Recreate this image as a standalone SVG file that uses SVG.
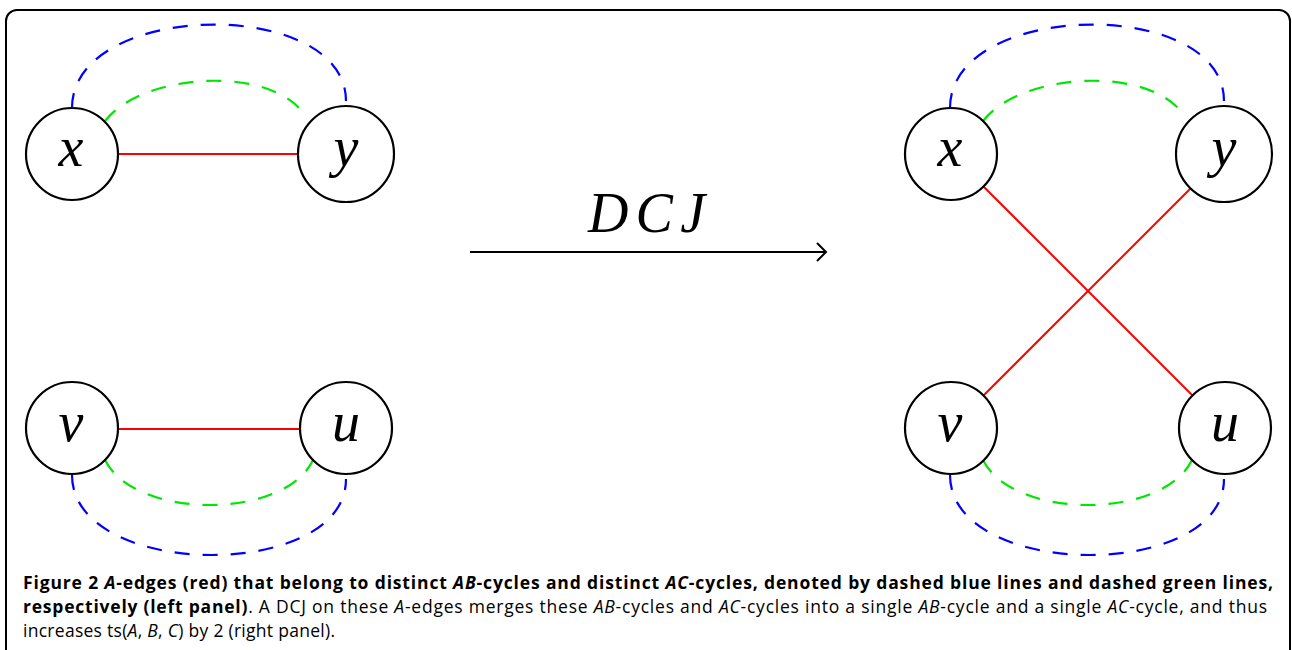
<svg xmlns="http://www.w3.org/2000/svg" width="1292" height="650" viewBox="0 0 1292 650">
<style>
.node{fill:#fff;stroke:#000;stroke-width:2.2}
.lbl{font-family:"Liberation Serif",serif;font-style:italic;font-size:56px;fill:#000;text-anchor:middle}
.red{stroke:#ff0000;stroke-width:2;fill:none}
.blue{stroke:#0000ff;stroke-width:2.2;fill:none;stroke-dasharray:15 13}
.green{stroke:#00e600;stroke-width:2.2;fill:none;stroke-dasharray:15 13}
.cap{font-family:"Open Sans",sans-serif;font-size:17.5px;fill:#000}
.b{font-weight:bold}
.i{font-style:italic}
</style>
<defs>
<marker id="chev" markerWidth="14" markerHeight="22" refX="12" refY="11" orient="auto" markerUnits="userSpaceOnUse">
<path d="M3,2 L12,11 L3,20" fill="none" stroke="#000" stroke-width="2"/>
</marker>
</defs>
<rect x="6" y="10" width="1284" height="650" rx="11" fill="#fff" stroke="#000" stroke-width="2"/>
<g id="connectors">
<!-- left panel -->
<path class="blue" d="M72,108 C72,0 346,-4 346,101"/>
<path class="green" d="M105,121 C140,75 260,65 300,109"/>
<line class="red" x1="118" y1="154" x2="298" y2="154"/>
<line class="red" x1="118" y1="429" x2="300" y2="429"/>
<path class="green" d="M105,460 C135,520 285,520 313,460"/>
<path class="blue" d="M72,475 C72,580 346,582 346,479"/>
<!-- right panel -->
<path class="blue" d="M950,108 C950,0 1224,-4 1224,101"/>
<path class="green" d="M983,121 C1018,75 1138,65 1179,109"/>
<line class="red" x1="983.5" y1="186.5" x2="1192.5" y2="395.5"/>
<line class="red" x1="1190.5" y1="188.5" x2="983.5" y2="395.5"/>
<path class="green" d="M983,460 C1013,520 1163,520 1192,460"/>
<path class="blue" d="M950,475 C950,580 1224,582 1224,479"/>
<!-- DCJ arrow -->
<line x1="470" y1="252" x2="826" y2="252" stroke="#000" stroke-width="2" marker-end="url(#chev)"/>
<text x="588" y="232" textLength="117" style="font-family:'Liberation Serif',serif;font-style:italic;font-size:56px">DCJ</text>
</g>
<g id="L-x"><circle class="node" cx="72" cy="154" r="46"/><text class="lbl" x="71" y="166">x</text></g>
<g id="L-y"><circle class="node" cx="346" cy="154" r="48"/><text class="lbl" x="346" y="166">y</text></g>
<g id="L-v"><circle class="node" cx="72" cy="428" r="46"/><text class="lbl" x="71" y="441">v</text></g>
<g id="L-u"><circle class="node" cx="346" cy="428" r="46"/><text class="lbl" x="346" y="441">u</text></g>
<g id="R-x"><circle class="node" cx="951" cy="154" r="46"/><text class="lbl" x="950" y="166">x</text></g>
<g id="R-y"><circle class="node" cx="1224" cy="154" r="48"/><text class="lbl" x="1224" y="166">y</text></g>
<g id="R-v"><circle class="node" cx="951" cy="428" r="46"/><text class="lbl" x="950" y="441">v</text></g>
<g id="R-u"><circle class="node" cx="1225" cy="428" r="46"/><text class="lbl" x="1225" y="441">u</text></g>
<g id="caption">
<text class="cap b" x="23" y="589" textLength="1250">Figure 2 <tspan class="i">A</tspan>-edges (red) that belong to distinct <tspan class="i">AB</tspan>-cycles and distinct <tspan class="i">AC</tspan>-cycles, denoted by dashed blue lines and dashed green lines,</text>
<text class="cap" x="23" y="613" textLength="1244"><tspan class="b">respectively (left panel)</tspan>. A DCJ on these <tspan class="i">A</tspan>-edges merges these <tspan class="i">AB</tspan>-cycles and <tspan class="i">AC</tspan>-cycles into a single <tspan class="i">AB</tspan>-cycle and a single <tspan class="i">AC</tspan>-cycle, and thus</text>
<text class="cap" x="23" y="637" textLength="312">increases ts(<tspan class="i">A</tspan>, <tspan class="i">B</tspan>, <tspan class="i">C</tspan>) by 2 (right panel).</text>
</g>
</svg>
